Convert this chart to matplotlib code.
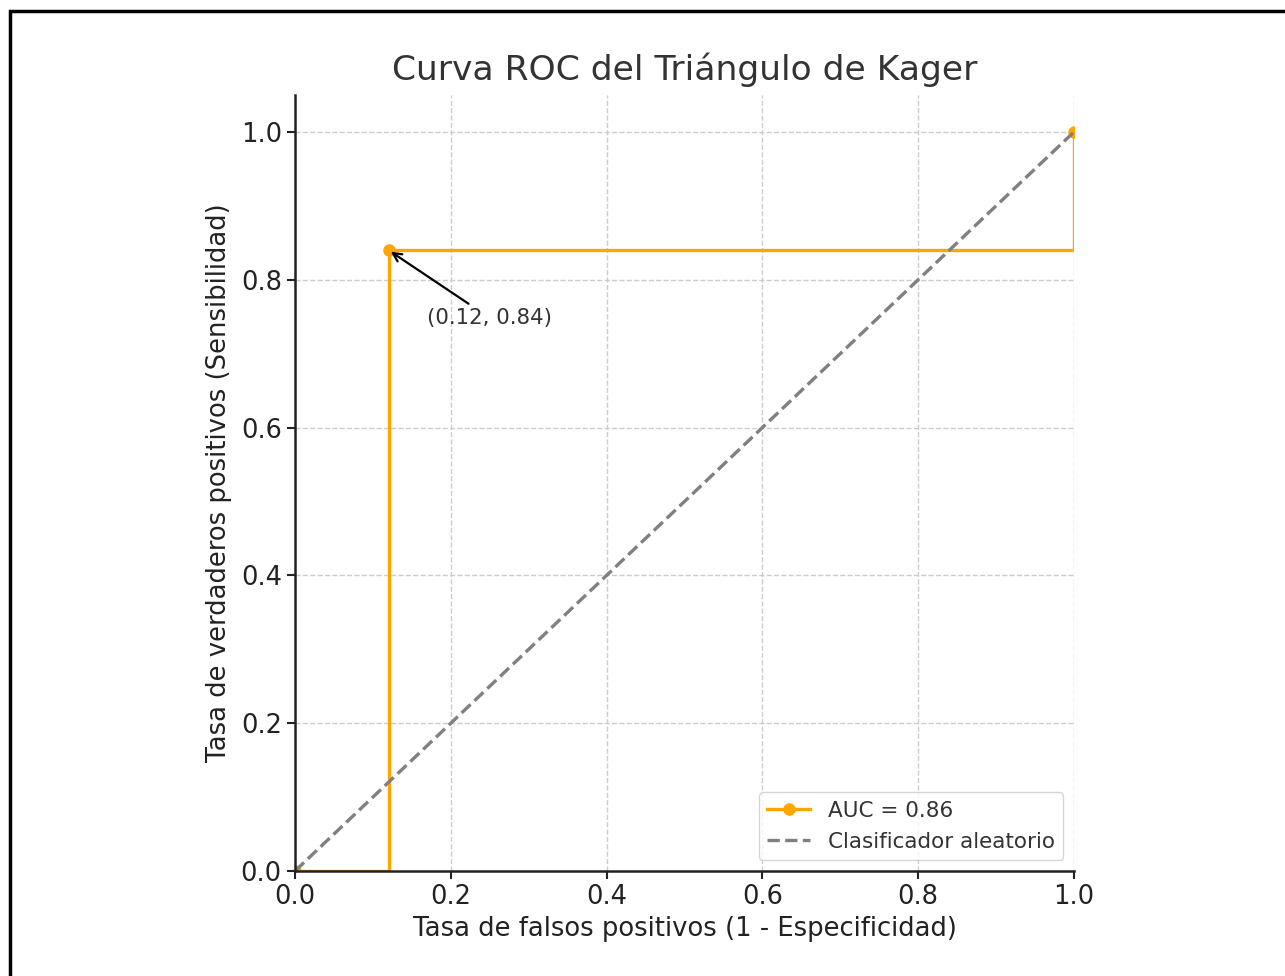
import matplotlib
matplotlib.use("Agg")
import matplotlib.pyplot as plt
from matplotlib.patches import Rectangle

# data
fpr = [0.0, 0.12, 1.0]
tpr = [0.0, 0.84, 1.0]
auc_value = 0.86
chance = [0.0, 1.0]
point = (0.12, 0.84)

title = "Curva ROC del Triángulo de Kager"
xlabel = "Tasa de falsos positivos (1 - Especificidad)"
ylabel = "Tasa de verdaderos positivos (Sensibilidad)"

fig = plt.figure(figsize=(12.85, 9.76), dpi=100)
ax = fig.add_axes([0.2296, 0.1076, 0.6062, 0.7951])

ax.plot(fpr, tpr, color="orange", lw=2.4, marker="o", ms=8,
        drawstyle="steps-post", label="AUC = {:.2f}".format(auc_value))
ax.plot(chance, chance, ls="--", color="gray", lw=2.4,
        label="Clasificador aleatorio")

ax.annotate("({:.2f}, {:.2f})".format(*point), xy=point, xytext=(0.17, 0.74),
            fontsize=15.3, color="#333333",
            arrowprops=dict(arrowstyle="->", color="black", lw=1.6))

ax.set_xlim(0, 1)
ax.set_ylim(0, 1.05)
ax.set_xticks([0, 0.2, 0.4, 0.6, 0.8, 1.0])
ax.set_yticks([0, 0.2, 0.4, 0.6, 0.8, 1.0])

ax.set_title(title, fontsize=24.8, color="#333333", pad=11)
ax.set_xlabel(xlabel, fontsize=18.6, color="#222222", labelpad=4)
ax.set_ylabel(ylabel, fontsize=18.6, color="#222222", labelpad=6)
ax.tick_params(labelsize=18.5, length=6, width=1.5, colors="#222222")

ax.grid(True, ls="--", color="#cccccc", lw=1)
ax.spines["top"].set_visible(False)
ax.spines["right"].set_visible(False)
for s in ["left", "bottom"]:
    ax.spines[s].set_linewidth(1.8)
    ax.spines[s].set_color("#222222")

leg = ax.legend(loc="lower right", fontsize=15.5, framealpha=0.8)
for t in leg.get_texts():
    t.set_color("#333333")

# screenshot frame
fig.patches.append(Rectangle((10 / 1285, -0.1), 1.2, 1.1 - 11 / 976,
                             transform=fig.transFigure, fill=False,
                             ec="black", lw=2.5, zorder=10))

fig.savefig("out.png", dpi=100)
